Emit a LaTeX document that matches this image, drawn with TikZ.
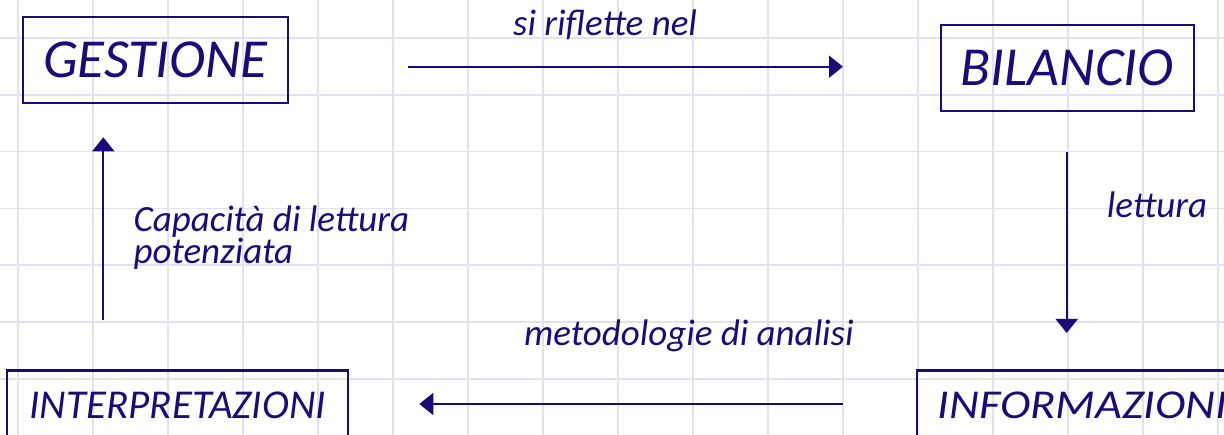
\documentclass[tikz,border=0pt]{standalone}
\usepackage{fontspec}
\setmainfont{Carlito}
\usepackage{xcolor}
\usepackage{tikz}
\usetikzlibrary{arrows.meta}
\definecolor{inkblue}{HTML}{1B0B7A}
\definecolor{gridlav}{HTML}{E3E1EF}
\tikzset{every node/.append style={font=\itshape,text=inkblue}}
\tikzset{
  bigbox/.style={draw=inkblue,line width=2.2pt,minimum height=86pt,inner sep=0pt,
    font=\fontsize{55}{60}\selectfont\itshape},
  lowbox/.style={draw=inkblue,line width=2.2pt,minimum height=69pt,inner sep=0pt,
    font=\fontsize{41}{48}\selectfont\itshape},
  flowlbl/.style={anchor=base west,align=left,inner sep=0pt,
    font=\fontsize{37}{31.6}\selectfont\itshape},
  flow/.style={->,inkblue,line width=2pt}
}

\begin{document}
\begin{tikzpicture}[x=1pt,y=-1pt,>={Triangle[length=14pt,width=22pt]}]
  \useasboundingbox (0,0) rectangle (1224,435);
  \begin{scope}
    \clip (0,0) rectangle (1224,435);
    \foreach \i in {0,...,16}
      \draw[gridlav,line width=1.5pt] ({18+75*\i},0)--({18+75*\i},435);
    \foreach \j in {0,...,7}
      \draw[gridlav,line width=1.5pt] (0,{38+56.8*\j})--(1224,{38+56.8*\j});
  \end{scope}
  % boxes
  \node[bigbox,minimum width=265pt] (gest) at (155.3,59.7) {GESTIONE};
  \node[bigbox,minimum width=253pt] (bil) at (1067.3,68) {BILANCIO};
  \node[lowbox,minimum width=341pt] (interp) at (177.7,405) {INTERPRETAZIONI};
  \node[lowbox,anchor=west,inner xsep=20.7pt] (info) at (916,405)
    {\addfontfeatures{FakeStretch=1.13}INFORMAZIONI};
  % arrow ends
  \coordinate (gestout) at (408,66.7);
  \coordinate (bilin) at (843,66.7);
  \coordinate (bilout) at (1066.7,151.7);
  \coordinate (infoin) at (1066.7,333);
  \coordinate (infoout) at (843.3,404);
  \coordinate (interpin) at (419.3,404);
  \coordinate (interpout) at (103.3,320);
  \coordinate (gestin) at (103.3,137.3);
  \draw[flow] (gestout)--(bilin);
  \draw[flow] (bilout)--(infoin);
  \draw[flow] (infoout)--(interpin);
  \draw[flow] (interpout)--(gestin);
  % labels
  \node[flowlbl] (riflette) at (513,36) {si riflette nel};
  \node[flowlbl] (lettura) at (1106.7,217.3) {lettura};
  \node[flowlbl] (metodo) at (524,346) {metodologie di analisi};
  \node[flowlbl] (capacita) at (133.3,263.3) {Capacità di lettura\\potenziata};
\end{tikzpicture}
\end{document}
